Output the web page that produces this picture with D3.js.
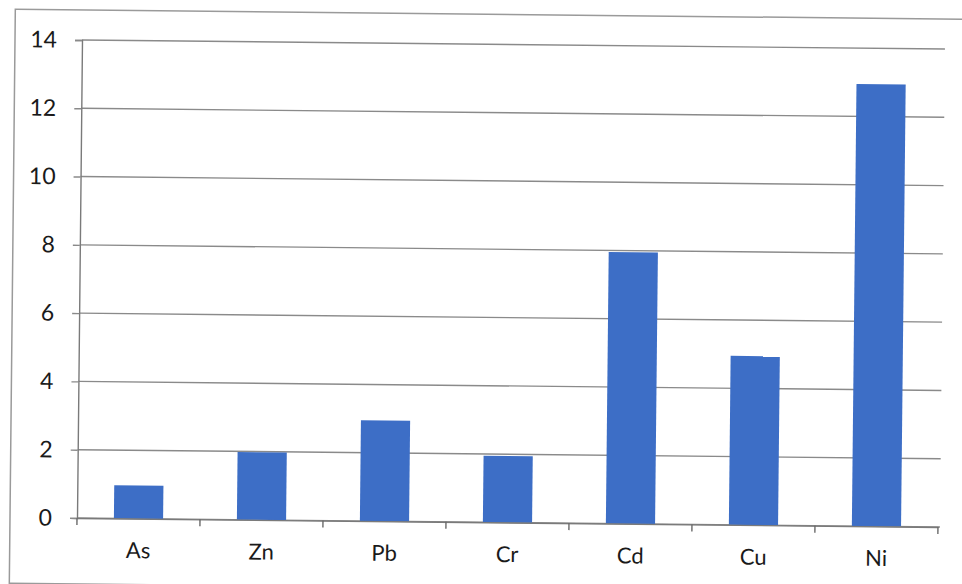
<!DOCTYPE html>
<html>
<head>
<meta charset="utf-8">
<script src="https://cdn.jsdelivr.net/npm/d3@7"></script>
<style>
  html, body { margin: 0; padding: 0; background: #ffffff; }
  svg { display: block; }
  text { font-family: Lato, "Open Sans", sans-serif; fill: #1a1a1a; }
</style>
</head>
<body>
<svg id="chart" width="962" height="584"></svg>
<script>
// Metal concentrations by element
const categories = ["As", "Zn", "Pb", "Cr", "Cd", "Cu", "Ni"];
const values = [0.97, 1.98, 2.95, 1.95, 7.95, 4.95, 12.95];
const yTicks = [0, 2, 4, 6, 8, 10, 12, 14];

const svg = d3.select("#chart");
const origin = { x: 82, y: 40 };
const width = 861, height = 478;

// whole sheet sits slightly tilted
const sheet = svg.append("g")
  .attr("transform", `rotate(0.6 ${origin.x} ${origin.y})`);

// outer chart frame
sheet.append("rect")
  .attr("x", 15).attr("y", 10)
  .attr("width", 980).attr("height", 574)
  .attr("fill", "none")
  .attr("stroke", "#9a9a9a")
  .attr("stroke-width", 1.5);

const g = sheet.append("g")
  .attr("transform", `translate(${origin.x},${origin.y})`);

const x = d3.scaleBand()
  .domain(categories)
  .range([0, width])
  .paddingInner(0.6)
  .paddingOuter(0.3);

const y = d3.scaleLinear().domain([0, 14]).range([height, 0]);

// horizontal gridlines
g.append("g")
  .selectAll("line")
  .data(yTicks)
  .join("line")
  .attr("x1", 0).attr("x2", width + 2)
  .attr("y1", d => y(d)).attr("y2", d => y(d))
  .attr("stroke", "#8a8a8a")
  .attr("stroke-width", 1.4);

// y axis
const yAxis = g.append("g")
  .call(d3.axisLeft(y).tickValues(yTicks).tickSize(7).tickPadding(18).tickFormat(d3.format("d")));
yAxis.select(".domain").attr("stroke", "#7a7a7a").attr("stroke-width", 1.4);
yAxis.selectAll(".tick line").attr("stroke", "#8a8a8a").attr("stroke-width", 1.4);
yAxis.selectAll(".tick text").attr("font-size", 23).style("fill", "#1a1a1a");

// bars
g.append("g")
  .selectAll("rect")
  .data(categories.map((c, i) => ({ c, v: values[i] })))
  .join("rect")
  .attr("x", d => x(d.c))
  .attr("width", x.bandwidth())
  .attr("y", d => y(d.v))
  .attr("height", d => y(0) - y(d.v))
  .attr("fill", "#3d6ec6");

// x axis: labels at category centres, tick marks between categories
const xAxis = g.append("g")
  .attr("transform", `translate(0,${height})`)
  .call(d3.axisBottom(x).tickSize(0).tickPadding(24));
xAxis.select(".domain").attr("stroke", "#7a7a7a").attr("stroke-width", 1.4);
xAxis.selectAll(".tick text").attr("font-size", 22).style("fill", "#1a1a1a");

xAxis.append("g")
  .selectAll("line")
  .data(d3.range(categories.length + 1))
  .join("line")
  .attr("x1", i => i * x.step()).attr("x2", i => i * x.step())
  .attr("y1", 0).attr("y2", 7)
  .attr("stroke", "#6a6a6a")
  .attr("stroke-width", 1.4);
</script>
</body>
</html>
